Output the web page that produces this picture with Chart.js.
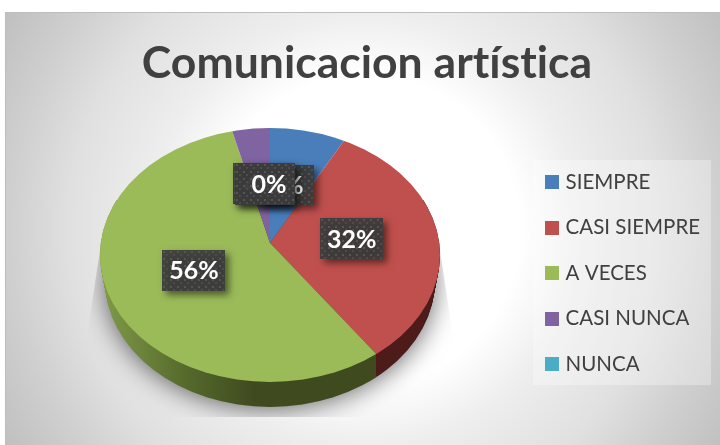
<!DOCTYPE html>
<html><head><meta charset="utf-8">
<style>html,body{margin:0;padding:0;background:#fff}canvas{display:block}</style>
<script src="https://cdn.jsdelivr.net/npm/chart.js@4"></script>
</head><body><div style="width:720px;height:445px"><canvas id="c" width="720" height="445"></canvas></div>
<script>
const categories = ['SIEMPRE','CASI SIEMPRE','A VECES','CASI NUNCA','NUNCA'];
const seriesValues = [8,32,56,4,0];
const sliceColors = ['#4A7EBB','#C0504D','#9BBB59','#8064A2','#4BACC6'];
const chartTitle = 'Comunicacion artística';

const apex = {x:270,y:243}, tilt = 0.76;
const face = {x:270,y:255,rx:170,ry:127};
const base = {x:270,y:280,rx:165,ry:127};
const labelRadius = 84;
const labelNudge = [[-5,4],[-2,0],[0,0],[2,4],[-5,5]];
const labelBoxW = [56,63,63,56,60];
const labelBoxH = [40,41,41,41,42];
const labelTextShift = [0,0,0,0,4];

function dotPattern(ctx){
  const p=document.createElement('canvas');p.width=p.height=7;
  const g=p.getContext('2d');g.clearRect(0,0,7,7);
  g.fillStyle='#555';g.fillRect(1,1,2,2);
  g.fillStyle='#4c4c4c';g.fillRect(4,4,2,2);
  return ctx.createPattern(p,'repeat');
}
function facePoint(a){
  const dx=Math.cos(a), dy=Math.sin(a)*tilt;
  const ox=(apex.x-face.x)/face.rx, oy=(apex.y-face.y)/face.ry;
  const ux=dx/face.rx, uy=dy/face.ry;
  const A=ux*ux+uy*uy,B=2*(ox*ux+oy*uy),C=ox*ox+oy*oy-1;
  const t=(-B+Math.sqrt(B*B-4*A*C))/(2*A);
  return {x:apex.x+dx*t,y:apex.y+dy*t};
}
const pie3d = {
  id:'pie3d',
  beforeDraw(chart){
    const ctx=chart.ctx;
    ctx.letterSpacing='0.01px';
    ctx.save();
    ctx.fillStyle='#fff';ctx.fillRect(0,0,720,445);
    ctx.save();
    ctx.beginPath();ctx.rect(6,12,714,433);ctx.clip();
    const g=ctx.createRadialGradient(365,230,0,365,230,430);
    g.addColorStop(0,'#ffffff');g.addColorStop(.36,'#ffffff');g.addColorStop(.5,'#eeeeee');
    g.addColorStop(.69,'#e0e0e0');g.addColorStop(.82,'#d0d0d0');g.addColorStop(1,'#bdbdbd');
    ctx.fillStyle=g;ctx.fillRect(0,0,720,445);
    ctx.restore();
    ctx.fillStyle='#bdbdbd';ctx.fillRect(5,12,715,1);ctx.fillRect(5,12,1,433);
    ctx.fillStyle='rgba(255,255,255,.3)';ctx.fillRect(533,160,178,225);
    ctx.restore();
  },
  beforeDatasetsDraw(chart){
    const ctx=chart.ctx, arcs=chart.getDatasetMeta(0).data;
    ctx.save();
    ctx.beginPath();
    ctx.moveTo(100,250);ctx.lineTo(88,330);ctx.lineTo(88,417);ctx.lineTo(452,417);ctx.lineTo(452,330);ctx.lineTo(440,250);
    ctx.closePath();ctx.clip();
    ctx.shadowColor='rgba(0,0,0,.6)';ctx.shadowBlur=26;ctx.shadowOffsetX=0;ctx.shadowOffsetY=2;
    ctx.fillStyle='#999';
    ctx.beginPath();ctx.ellipse(base.x,base.y,base.rx,base.ry,0,0,Math.PI*2);ctx.fill();
    ctx.restore();
    const split=facePoint(arcs[1].endAngle);
    const gg=ctx.createLinearGradient(103,0,255,0);
    gg.addColorStop(0,'#7F9A48');gg.addColorStop(.55,'#55692c');gg.addColorStop(1,'#3F4A1F');
    const wall=(fill,x0,x1)=>{
      ctx.save();ctx.beginPath();ctx.rect(x0,200,x1-x0,260);ctx.clip();
      ctx.fillStyle=fill;
      for(let i=0;i<=25;i++){
        const t=i/25;
        ctx.beginPath();
        ctx.ellipse(face.x,face.y+(base.y-face.y)*t,face.rx+(base.rx-face.rx)*t,face.ry,0,0,Math.PI*2);
        ctx.fill();
      }
      ctx.restore();
    };
    wall(gg,0,split.x);
    wall('#4E1B1B',split.x,720);
  },
  beforeDatasetDraw(chart,args){
    const ctx=chart.ctx, m=args.meta.data[0];
    ctx.save();
    ctx.beginPath();ctx.ellipse(face.x,face.y,face.rx,face.ry,0,0,Math.PI*2);ctx.clip();
    const k=210/m.outerRadius;
    ctx.translate(apex.x,apex.y);ctx.scale(k,k*tilt);ctx.translate(-m.x,-m.y);
  },
  afterDatasetDraw(chart){chart.ctx.restore();},
  afterDatasetsDraw(chart){
    const ctx=chart.ctx, arcs=chart.getDatasetMeta(0).data;
    const total=seriesValues.reduce((a,b)=>a+b,0), pat=dotPattern(ctx);
    arcs.forEach((arc,i)=>{
      const a=(arc.startAngle+arc.endAngle)/2;
      const cx=apex.x+Math.cos(a)*labelRadius+labelNudge[i][0];
      const cy=apex.y+Math.sin(a)*labelRadius*tilt+labelNudge[i][1];
      const w=labelBoxW[i],h=labelBoxH[i];
      const lx=Math.round(cx-w/2),ly=Math.round(cy-h/2);
      ctx.save();
      ctx.globalAlpha=.93;
      ctx.shadowColor='rgba(0,0,0,.55)';ctx.shadowBlur=7;ctx.shadowOffsetX=4;ctx.shadowOffsetY=4;
      ctx.fillStyle='#3c3c3c';ctx.fillRect(lx,ly,w,h);
      ctx.restore();
      ctx.save();
      ctx.translate(lx,ly);
      ctx.fillStyle=pat;ctx.fillRect(0,0,w,h);
      ctx.restore();
      ctx.fillStyle='#fff';ctx.font='bold 25px Lato';ctx.textAlign='center';ctx.textBaseline='middle';
      ctx.fillText(Math.round(seriesValues[i]/total*100)+'%',cx+labelTextShift[i],cy+1);
    });
  }
};
new Chart(document.getElementById('c'),{
  type:'pie',
  data:{labels:categories,datasets:[{data:seriesValues,backgroundColor:sliceColors,borderWidth:0,clip:false}]},
  plugins:[pie3d],
  options:{
    responsive:false,animation:false,
    layout:{padding:{left:24,top:37,right:10,bottom:-64}},
    plugins:{
      tooltip:{enabled:false},
      title:{display:true,text:chartTitle,color:'#404040',font:{family:'Lato',size:44.5,weight:'bold',lineHeight:1.2},padding:{top:0,bottom:20}},
      legend:{position:'right',labels:{
        font:{family:'Lato',size:20.5},color:'#404040',padding:25,boxHeight:14,usePointStyle:true,pointStyleWidth:6,
        generateLabels(chart){
          return Chart.overrides.pie.plugins.legend.labels.generateLabels(chart).map(it=>{
            const s=document.createElement('canvas');s.width=s.height=14;
            const g=s.getContext('2d');g.fillStyle=it.fillStyle;g.fillRect(0,0,14,14);
            it.pointStyle=s;return it;
          });
        }
      }}
    }
  }
});
</script></body></html>
